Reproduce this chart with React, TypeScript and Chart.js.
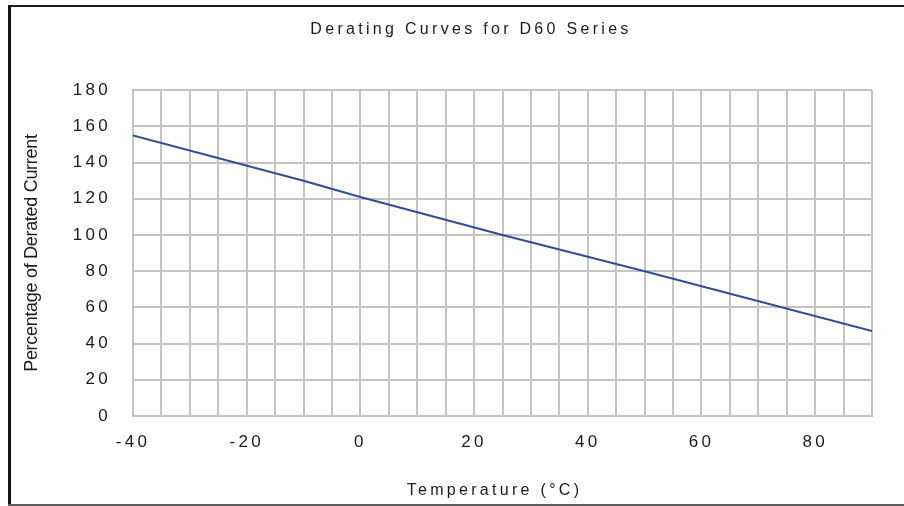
import React, { useEffect, useRef } from "react";
import { Chart, registerables } from "chart.js";

Chart.register(...registerables);

// ---- data ----
const chartTitle = "Derating Curves for D60 Series";
const xAxisTitle = "Temperature (°C)";
const yAxisTitle = "Percentage of Derated Current";

const temperatures = [-40, -10, 0, 25, 50, 90];
const deratedPercent = [155, 130, 121, 100, 80, 47];

const xMin = -40;
const xMax = 90;
const xGridStep = 5;
const xLabelStep = 20;

const yMin = 0;
const yMax = 180;
const yStep = 20;

const FONT = "'Liberation Sans', Arial, sans-serif";
const TEXT = "#1c1c1c";
const GRID = "#c4c4c4";
const LINE = "#2f4d9b";
const SPACING = "3.3px";

const framePlugin = {
  id: "frameAndSpacing",
  beforeUpdate(chart: any) {
    chart.ctx.letterSpacing = SPACING;
  },
  afterLayout(chart: any) {
    const tb = chart.titleBlock;
    if (tb && !tb._shifted) {
      const orig = tb.draw.bind(tb);
      tb.draw = (...args: any[]) => {
        const c = chart.ctx;
        c.save();
        c.translate(35, 0);
        orig(...args);
        c.restore();
      };
      tb._shifted = true;
    }
  },
  beforeDraw(chart: any) {
    const c = chart.ctx;
    c.save();
    c.letterSpacing = "0px";
    c.fillStyle = "#ffffff";
    c.fillRect(0, 0, chart.width, chart.height);
    c.restore();
    c.letterSpacing = SPACING;
  },
  afterDraw(chart: any) {
    const c = chart.ctx;
    c.save();
    c.fillStyle = "#1e1e1e";
    c.fillRect(8, 5, chart.width - 8, 2);
    c.fillStyle = "#151515";
    c.fillRect(8, 5, 3, chart.height - 5);
    c.fillStyle = "#5c5c5c";
    c.fillRect(8, chart.height - 2, chart.width - 8, 2);
    c.restore();
  },
};

export default function App() {
  const ref = useRef<HTMLCanvasElement | null>(null);

  useEffect(() => {
    if (!ref.current) return;
    const points = temperatures.map((t, i) => ({ x: t, y: deratedPercent[i] }));
    const chart = new Chart(ref.current, {
      type: "line",
      data: {
        datasets: [
          {
            data: points,
            borderColor: LINE,
            borderWidth: 2,
            pointRadius: 0,
            tension: 0,
            fill: false,
          },
        ],
      },
      options: {
        animation: false,
        responsive: false,
        devicePixelRatio: 1,
        layout: { padding: { left: 0, right: 32, top: 0, bottom: 0 } },
        plugins: {
          legend: { display: false },
          tooltip: { enabled: false },
          title: {
            display: true,
            text: chartTitle,
            color: TEXT,
            font: { family: FONT, size: 16, weight: "normal" },
            padding: { top: 20, bottom: 51 },
          },
        },
        scales: {
          x: {
            type: "linear",
            min: xMin,
            max: xMax,
            grid: { color: GRID, lineWidth: 2, drawTicks: false },
            border: { color: GRID, width: 2 },
            ticks: {
              stepSize: xGridStep,
              autoSkip: false,
              maxRotation: 0,
              padding: 16,
              color: TEXT,
              font: { family: FONT, size: 17 },
              callback: (v: any) => (Number(v) % xLabelStep === 0 ? String(v) : ""),
            },
            title: {
              display: true,
              text: xAxisTitle,
              color: TEXT,
              font: { family: FONT, size: 16 },
              padding: { top: 0, bottom: 6 },
            },
            afterFit: (scale: any) => {
              scale.height = 90;
              if (!scale._shifted) {
                const orig = scale.drawTitle.bind(scale);
                scale.drawTitle = (...args: any[]) => {
                  const c = scale.ctx;
                  c.save();
                  c.translate(-8, 0);
                  orig(...args);
                  c.restore();
                };
                scale._shifted = true;
              }
            },
          },
          y: {
            type: "linear",
            min: yMin,
            max: yMax,
            grid: { color: GRID, lineWidth: 2, drawTicks: false },
            border: { color: GRID, width: 2 },
            ticks: {
              stepSize: yStep,
              padding: 22,
              color: TEXT,
              font: { family: FONT, size: 17 },
            },
            title: {
              display: true,
              text: yAxisTitle,
              color: TEXT,
              font: { family: FONT, size: 18 },
              padding: { top: 21, bottom: 0 },
            },
            afterFit: (scale: any) => {
              scale.width = 133;
              if (!scale._tight) {
                const orig = scale.drawTitle.bind(scale);
                scale.drawTitle = (...args: any[]) => {
                  const c = scale.ctx;
                  const prev = c.letterSpacing;
                  c.letterSpacing = "-0.3px";
                  orig(...args);
                  c.letterSpacing = prev;
                };
                scale._tight = true;
              }
            },
          },
        },
      } as any,
      plugins: [framePlugin],
    });
    return () => chart.destroy();
  }, []);

  return (
    <div style={{ position: "fixed", left: 0, top: 0, width: 904, height: 506 }}>
      <canvas ref={ref} width={904} height={506} style={{ display: "block" }} />
    </div>
  );
}
